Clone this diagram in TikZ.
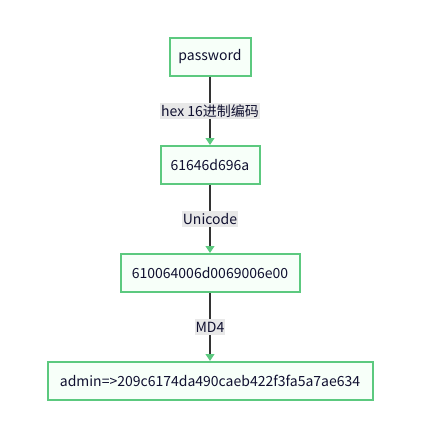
\documentclass[tikz,border=0pt]{standalone}
\usepackage{fontspec}
\setmainfont{Noto Sans CJK SC}
\usetikzlibrary{arrows.meta}
\definecolor{boxgreen}{HTML}{5CC97F}
\definecolor{boxfill}{HTML}{F7FFF9}
\definecolor{txt}{HTML}{101030}
\definecolor{lblbg}{HTML}{E8E8E8}
\definecolor{linegray}{HTML}{333333}
\tikzset{
  stepbox/.style={draw=boxgreen, line width=2pt, fill=boxfill, text=txt, font=\fontsize{14}{16}\selectfont, inner sep=0pt, minimum height=38pt, anchor=center},
  conn/.style={draw=linegray, line width=1.2pt, -{Triangle[length=7pt,width=9pt,fill=boxgreen,color=boxgreen]}},
  lbl/.style={fill=lblbg, text=txt, font=\fontsize{14}{16}\selectfont, inner sep=1pt, minimum height=16pt}
}
\begin{document}
\begin{tikzpicture}[x=1pt,y=-1pt]
\useasboundingbox (0,0) rectangle (440,432);
\node[stepbox, minimum width=81pt] (a) at (210,56.5) {password};
\node[stepbox, minimum width=99pt] (b) at (210,165) {61646d696a};
\node[stepbox, minimum width=179pt] (c) at (210,273) {610064006d0069006e00};
\node[stepbox, minimum width=325pt] (d) at (210,381) {admin=>209c6174da490caeb422f3fa5a7ae634};
\draw[conn] (a) -- node[lbl] {hex 16进制编码} (b);
\draw[conn] (b) -- node[lbl] {Unicode} (c);
\draw[conn] (c) -- node[lbl] {MD4} (d);
\end{tikzpicture}
\end{document}
